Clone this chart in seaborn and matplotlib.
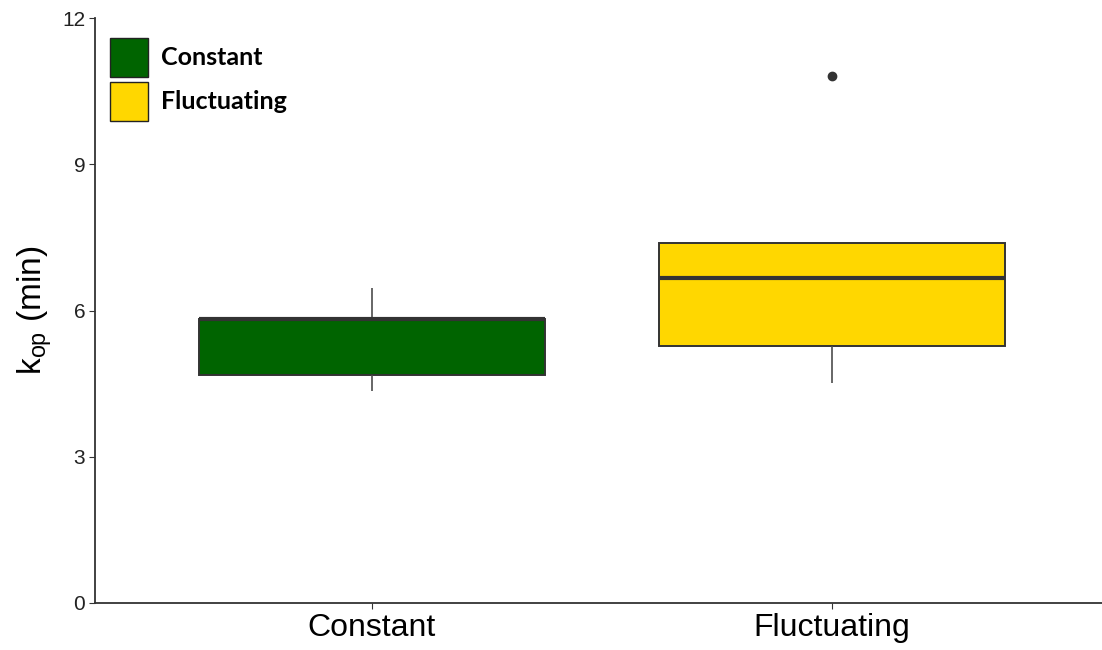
import matplotlib
matplotlib.use("Agg")
import matplotlib.pyplot as plt
from matplotlib.patches import Patch
import seaborn as sns
import pandas as pd

# Rate constants (min) per temperature regime
constant_vals = [4.35, 4.68, 5.82, 5.83, 6.46]
fluctuating_vals = [4.51, 5.27, 6.67, 7.38, 10.81]
categories = ["Constant", "Fluctuating"]
colors = ["#006400", "#FFD700"]
yticks = [0, 3, 6, 9, 12]

df = pd.DataFrame({
    "regime": ["Constant"] * len(constant_vals) + ["Fluctuating"] * len(fluctuating_vals),
    "kop": constant_vals + fluctuating_vals,
})

sns.set_style("ticks")
plt.rcParams["font.family"] = ["Liberation Sans", "DejaVu Sans"]

fig = plt.figure(figsize=(11.02, 6.5), dpi=100)
ax = fig.add_axes([95 / 1102, 1 - 603 / 650, 1 - 95 / 1102, 585 / 650])

sns.boxplot(
    data=df, x="regime", y="kop", hue="regime", order=categories, hue_order=categories,
    palette=dict(zip(categories, colors)), saturation=1, width=0.752, dodge=False,
    legend=False, linecolor="#333333", linewidth=1.4, showcaps=False,
    whiskerprops=dict(color="#4D4D4D", linewidth=1.2),
    medianprops=dict(color="#333333", linewidth=3),
    flierprops=dict(marker="o", markerfacecolor="#333333", markeredgecolor="#333333",
                    markersize=6),
    ax=ax,
)

ax.set_ylim(0, 12)
ax.set_xlim(-0.602, 1.587)
ax.set_yticks(yticks)
ax.set_yticklabels([str(v) for v in yticks], fontsize=15, color="#222222")
ax.tick_params(axis="x", labelsize=23, labelcolor="black", length=4, color="#333333")
ax.tick_params(axis="y", length=4, color="#333333", pad=3)
ax.set_xlabel("")
ax.set_ylabel(r"$\mathregular{k_{op}}$ (min)", fontsize=24, labelpad=6, color="black")
for s in ["left", "bottom"]:
    ax.spines[s].set_color("#333333")
    ax.spines[s].set_linewidth(1.3)
sns.despine(ax=ax)

handles = [Patch(facecolor=c, edgecolor="#222222", linewidth=1.0, label=l)
           for c, l in zip(colors, categories)]
ax.legend(handles=handles, loc="upper left", bbox_to_anchor=(0.015, 0.966),
          frameon=False, borderpad=0, borderaxespad=0, handlelength=1.52,
          handleheight=2.02, handletextpad=0.5, labelspacing=0.2, labelcolor="black",
          prop=dict(family=["Lato", "DejaVu Sans"], weight="bold", size=18))

fig.savefig("out.png", dpi=100)
